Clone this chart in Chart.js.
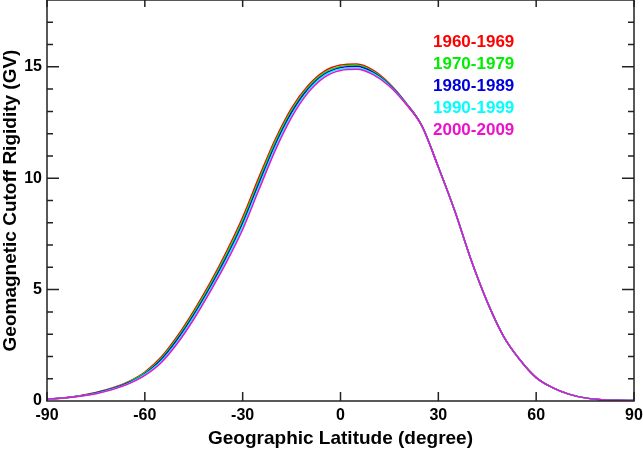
<!DOCTYPE html>
<html>
<head>
<meta charset="utf-8">
<script src="https://cdn.jsdelivr.net/npm/chart.js@4.4.0/dist/chart.umd.min.js"></script>
<style>
  html, body { margin: 0; padding: 0; background: #fff; }
  #wrap { width: 643px; height: 451px; position: relative; }
</style>
</head>
<body>
<div id="wrap"><canvas id="chart"></canvas></div>
<script>
// Latitudes (degree) and cutoff rigidity (GV) per decade
const latitudes = [-90, -85, -80, -75, -70, -65, -60, -55, -50, -45, -40, -35, -30, -25, -20, -15, -10, -5,
    0, 5, 10, 15, 20, 25, 30, 35, 40, 45, 50, 55, 60, 65, 70, 75, 80, 85, 90];

const rig1960 = [0.08, 0.14, 0.24, 0.38, 0.58, 0.87, 1.30, 1.97, 2.92, 4.05, 5.30, 6.70, 8.25, 10.05, 11.75, 13.15, 14.15, 14.80,
    15.08, 15.13, 14.85, 14.25, 13.40, 12.35, 10.50, 8.55, 6.35, 4.45, 2.90, 1.85, 1.05, 0.60, 0.31, 0.14, 0.06, 0.03, 0.02];
const rig1970 = [0.08, 0.14, 0.23, 0.37, 0.56, 0.85, 1.26, 1.91, 2.84, 3.96, 5.20, 6.58, 8.11, 9.91, 11.63, 13.04, 14.07, 14.73,
    15.02, 15.07, 14.80, 14.22, 13.38, 12.34, 10.50, 8.55, 6.35, 4.45, 2.90, 1.85, 1.05, 0.60, 0.31, 0.14, 0.06, 0.03, 0.02];
const rig1980 = [0.08, 0.13, 0.22, 0.36, 0.55, 0.82, 1.22, 1.85, 2.76, 3.86, 5.10, 6.46, 7.98, 9.77, 11.50, 12.94, 13.99, 14.66,
    14.96, 15.01, 14.75, 14.19, 13.37, 12.34, 10.50, 8.55, 6.35, 4.45, 2.90, 1.85, 1.05, 0.60, 0.31, 0.14, 0.06, 0.03, 0.02];
const rig1990 = [0.08, 0.13, 0.22, 0.34, 0.53, 0.79, 1.19, 1.78, 2.67, 3.77, 5.00, 6.34, 7.84, 9.63, 11.38, 12.83, 13.91, 14.60,
    14.90, 14.95, 14.70, 14.16, 13.35, 12.33, 10.50, 8.55, 6.35, 4.45, 2.90, 1.85, 1.05, 0.60, 0.31, 0.14, 0.06, 0.03, 0.02];
const rig2000 = [0.08, 0.13, 0.21, 0.33, 0.51, 0.77, 1.15, 1.72, 2.59, 3.67, 4.90, 6.22, 7.70, 9.49, 11.25, 12.73, 13.83, 14.53,
    14.84, 14.89, 14.65, 14.13, 13.34, 12.33, 10.50, 8.55, 6.35, 4.45, 2.90, 1.85, 1.05, 0.60, 0.31, 0.14, 0.06, 0.03, 0.02];

const decades = ['1960-1969', '1970-1979', '1980-1989', '1990-1999', '2000-2009'];
const colors = ['#ff0000', '#00ee00', '#0000dd', '#00ffff', '#ee11cc'];
const xTicks = [-90, -60, -30, 0, 30, 60, 90];
const yTicks = [0, 5, 10, 15];

const allSeries = [rig1960, rig1970, rig1980, rig1990, rig2000];
const FONT = '"Liberation Sans", Arial, Helvetica, sans-serif';

// frame, inward ticks on all four sides, and the coloured legend text
const framePlugin = {
    id: 'frame',
    afterDraw(chart) {
        const ctx = chart.ctx;
        const a = chart.chartArea;
        const xs = chart.scales.x, ys = chart.scales.y;
        ctx.save();
        ctx.strokeStyle = '#222';
        ctx.lineWidth = 1.5;
        ctx.strokeRect(a.left, a.top, a.right - a.left, a.bottom - a.top);
        ctx.beginPath();
        xTicks.forEach(v => {
            const px = xs.getPixelForValue(v);
            ctx.moveTo(px, a.bottom); ctx.lineTo(px, a.bottom - 9);
            ctx.moveTo(px, a.top); ctx.lineTo(px, a.top + 7);
        });
        for (let v = 1; v < 18; v++) {
            const py = ys.getPixelForValue(v);
            const len = yTicks.includes(v) ? 12 : 6;
            ctx.moveTo(a.left, py); ctx.lineTo(a.left + len, py);
            ctx.moveTo(a.right, py); ctx.lineTo(a.right - len, py);
        }
        ctx.stroke();

        ctx.font = 'bold 17px ' + FONT;
        ctx.textAlign = 'left';
        ctx.textBaseline = 'middle';
        decades.forEach((d, i) => {
            ctx.fillStyle = colors[i];
            ctx.fillText(d, 433, 42 + i * 22.2);
        });
        ctx.restore();
    }
};

new Chart(document.getElementById('chart'), {
    type: 'line',
    data: {
        datasets: allSeries.map((s, i) => ({
            label: decades[i],
            data: latitudes.map((lat, j) => ({ x: lat, y: s[j] })),
            borderColor: colors[i],
            borderWidth: 1.5,
            pointRadius: 0,
            fill: false,
            cubicInterpolationMode: 'monotone',
            order: allSeries.length - i
        }))
    },
    options: {
        responsive: true,
        maintainAspectRatio: false,
        animation: false,
        layout: { padding: { top: 0, right: 9, left: 0, bottom: 0 } },
        plugins: { legend: { display: false }, tooltip: { enabled: false } },
        scales: {
            x: {
                type: 'linear',
                min: -90,
                max: 90,
                afterBuildTicks: axis => { axis.ticks = xTicks.map(v => ({ value: v })); },
                afterFit: s => { s.height = 50; s.paddingLeft = 0; s.paddingRight = 0; },
                grid: { display: false, drawTicks: false },
                border: { display: false },
                ticks: { color: '#000', padding: 5, maxRotation: 0, font: { family: FONT, size: 16, weight: 'bold' } },
                title: {
                    display: true,
                    text: 'Geographic Latitude (degree)',
                    color: '#000',
                    padding: { top: 0, bottom: 1.5 },
                    font: { family: FONT, size: 19, weight: 'bold', lineHeight: 1.1 }
                }
            },
            y: {
                min: 0,
                max: 18,
                afterBuildTicks: axis => { axis.ticks = yTicks.map(v => ({ value: v })); },
                afterFit: s => { s.width = 47; s.paddingTop = 0; s.paddingBottom = 0; },
                grid: { display: false, drawTicks: false },
                border: { display: false },
                ticks: { color: '#000', padding: 5, font: { family: FONT, size: 16, weight: 'bold' } },
                title: {
                    display: true,
                    text: 'Geomagnetic Cutoff Rigidity (GV)',
                    color: '#000',
                    padding: { top: 0, bottom: 0 },
                    font: { family: FONT, size: 19, weight: 'bold', lineHeight: 1.1 }
                }
            }
        }
    },
    plugins: [framePlugin]
});
</script>
</body>
</html>
